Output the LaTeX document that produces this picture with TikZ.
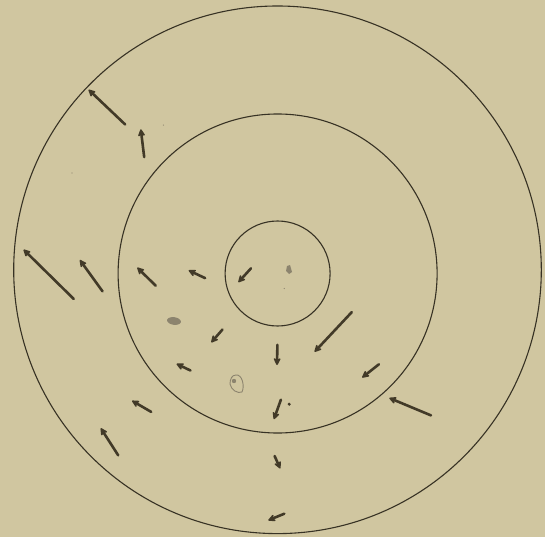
\documentclass[tikz,border=0pt]{standalone}
\usetikzlibrary{arrows.meta}
\definecolor{paper}{RGB}{208,198,160}
\definecolor{ink}{RGB}{55,50,36}
\definecolor{arrowink}{RGB}{66,58,40}
\definecolor{smudge}{RGB}{140,132,110}
\tikzset{
  ring/.style={draw=ink, line width=1.1pt},
  vec/.style={draw=arrowink, line width=2.6pt, line cap=round,
    -{Stealth[length=9pt,width=9pt,inset=3pt,round]}},
  speck/.style={fill=smudge, draw=none}
}
\begin{document}
\begin{tikzpicture}[x=1pt,y=-1pt]
\fill[paper] (0,0) rectangle (545,537);
\useasboundingbox (0,0) rectangle (545,537);
% rings
\coordinate (c) at (277.6,273.5);
\draw[ring] (277.5,269.8) circle[radius=263.8];
\draw[ring] (c) circle[radius=159.5];
\draw[ring] (c) circle[radius=52.5];
% arrows (tail -> head)
\coordinate (t1) at (125.1,124.4);  \coordinate (h1) at (88.6,89.7);
\coordinate (t2) at (144.2,157.1);  \coordinate (h2) at (140.8,129.3);
\coordinate (t3) at (73.7,298.9);   \coordinate (h3) at (23.6,249.6);
\coordinate (t4) at (102.5,291.3);  \coordinate (h4) at (79.9,260.0);
\coordinate (t5) at (155.7,285.7);  \coordinate (h5) at (137.3,267.6);
\coordinate (t6) at (205.1,278.1);  \coordinate (h6) at (188.7,270.4);
\coordinate (t7) at (251.0,268.3);  \coordinate (h7) at (238.4,282.2);
\coordinate (t8) at (351.8,312.1);  \coordinate (h8) at (314.6,351.8);
\coordinate (t9) at (222.5,329.5);  \coordinate (h9) at (211.3,342.4);
\coordinate (t10) at (277.4,344.8); \coordinate (h10) at (277.0,365.0);
\coordinate (t11) at (378.9,364.3); \coordinate (h11) at (362.2,377.5);
\coordinate (t12) at (190.5,370.5); \coordinate (h12) at (176.6,363.9);
\coordinate (t13) at (431.0,415.4); \coordinate (h13) at (389.3,398.0);
\coordinate (t14) at (151.2,411.9); \coordinate (h14) at (132.1,400.8);
\coordinate (t15) at (280.9,399.7); \coordinate (h15) at (273.9,419.2);
\coordinate (t16) at (118.2,455.3); \coordinate (h16) at (100.8,428.2);
\coordinate (t17) at (274.6,456.0); \coordinate (h17) at (280.2,468.5);
\coordinate (t18) at (284.3,513.7); \coordinate (h18) at (268.3,520.3);
\foreach \i in {1,...,18}{\draw[vec] (t\i) -- (h\i);}
% specks and smudges of the plate
\fill[arrowink] (289.2,404.2) circle[radius=1.7];
\fill[speck, rotate around={-8:(174,321)}] (174,321) ellipse[x radius=7,y radius=3.8];
\draw[smudge, line width=0.9pt] (236,375) .. controls (242,374) and (245,386) .. (242,392)
  .. controls (238,394) and (231,390) .. (230,384) .. controls (230,379) and (232,375) .. (236,375);
\fill[smudge] (234,381) circle[radius=2.2];
\fill[smudge] (287,266) -- (290,265) -- (292,272) -- (289,274) -- (286,271) -- cycle;
\fill[smudge] (284.3,288.5) circle[radius=0.6];
\fill[smudge] (163.4,125.1) circle[radius=0.6];
\fill[smudge] (72,173) circle[radius=0.6];
\end{tikzpicture}
\end{document}
